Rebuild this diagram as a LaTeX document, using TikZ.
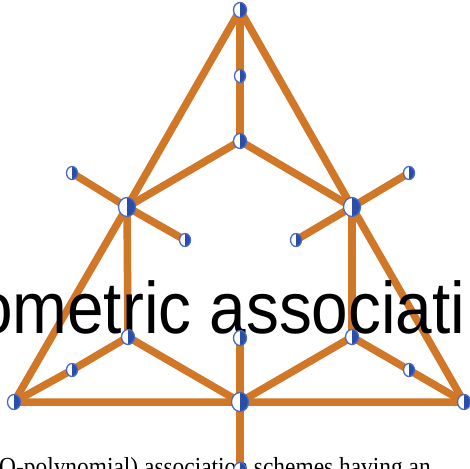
\documentclass[tikz,border=0pt]{standalone}
\usepackage{fontspec}
\usepackage{graphicx}
\usetikzlibrary{shapes.geometric}
\newfontfamily\bigsans{Liberation Sans}
\newfontfamily\smallserif{Liberation Serif}
\definecolor{edgeorange}{RGB}{208,120,40}
\definecolor{vblue}{RGB}{40,78,170}
\definecolor{vring}{RGB}{75,105,195}
\pgfdeclarelayer{edgelayer}
\pgfdeclarelayer{textlayer}
\pgfsetlayers{edgelayer,textlayer,main}
\tikzset{
  edge/.style={draw=edgeorange, line width=7.5pt, line join=round},
  vtx/.style={ellipse, draw=vring, line width=1.3pt, fill=white, inner sep=0pt,
    minimum width=11pt, minimum height=13pt,
    path picture={\fill[vblue] (path picture bounding box.north) rectangle (path picture bounding box.south east);}},
  midvtx/.style={vtx, minimum width=13pt, minimum height=15pt},
  bigvtx/.style={vtx, minimum width=17pt, minimum height=19pt},
  bigtext/.style={anchor=base west, inner sep=0pt, font=\bigsans\fontsize{73}{80}\selectfont},
  captext/.style={anchor=base west, inner sep=0pt, font=\smallserif\fontsize{26}{30}\selectfont},
}
\begin{document}
\begin{tikzpicture}[x=1pt,y=-1pt]
\useasboundingbox (0,0) rectangle (470,468);
\begin{scope}
\clip (0,0) rectangle (470,468);
% vertices
\node[midvtx] (t) at (240,10) {};
\node[vtx] (a1) at (240,76) {};
\node[midvtx] (a2) at (240,141) {};
\node[bigvtx] (L) at (127,207) {};
\node[bigvtx] (R) at (352,207) {};
\node[vtx] (Lo) at (72,173) {};
\node[vtx] (Li) at (185,240) {};
\node[vtx] (Ro) at (409,173) {};
\node[vtx] (Ri) at (296,240) {};
\node[midvtx] (LB) at (128,337) {};
\node[midvtx] (RB) at (352,337) {};
\node[midvtx] (M) at (240,338) {};
\node[vtx] (Ll) at (72,370) {};
\node[vtx] (Rl) at (409,370) {};
\node[midvtx] (BL) at (14,402) {};
\node[bigvtx] (BM) at (240,402) {};
\node[midvtx] (BR) at (464,402) {};
\node[midvtx] (B) at (240,470) {};
% edges
\begin{pgfonlayer}{edgelayer}
\draw[edge] (t.center) -- (L.center) -- (BL.center) -- (BM.center) -- (BR.center) -- (R.center) -- (t.center);
\draw[edge] (t.center) -- (a1.center) -- (a2.center);
\draw[edge] (L.center) -- (a2.center) -- (R.center);
\draw[edge] (Lo.center) -- (L.center) -- (Li.center);
\draw[edge] (Ro.center) -- (R.center) -- (Ri.center);
\draw[edge] (L.center) -- (LB.center);
\draw[edge] (R.center) -- (RB.center);
\draw[edge] (BL.center) -- (Ll.center) -- (LB.center) -- (BM.center);
\draw[edge] (BR.center) -- (Rl.center) -- (RB.center) -- (BM.center);
\draw[edge] (M.center) -- (BM.center) -- (B.center);
\end{pgfonlayer}
% texts
\begin{pgfonlayer}{textlayer}
\node[bigtext] (title) at (-24,333) {\scalebox{0.9}[1]{ometric associati}};
\node[captext] (caption) at (-1,475) {\scalebox{0.9}[1]{Q-polynomial) association schemes having an}};
\end{pgfonlayer}
\end{scope}
\end{tikzpicture}
\end{document}
